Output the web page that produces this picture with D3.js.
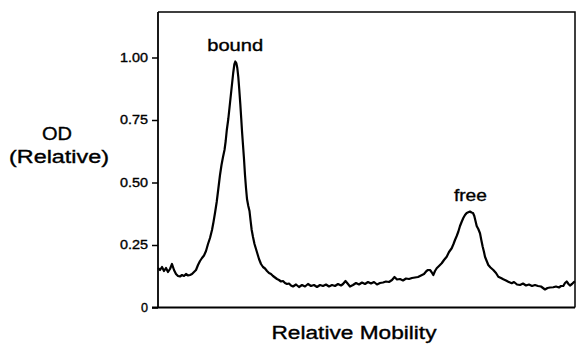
<!DOCTYPE html>
<html><head><meta charset="utf-8">
<script src="https://cdn.jsdelivr.net/npm/d3@7"></script>
<style>html,body{margin:0;padding:0;background:#fff;}svg{display:block;}</style>
</head><body>
<script>
// Relative mobility (arbitrary units, no tick labels on the x axis)
const mobility = [0,0.5,1,1.5,2,2.5,3,3.5,4,4.5,5,5.5,6,6.5,7,7.5,8,8.5,9,
9.5,10,10.5,11,11.5,12,12.5,13,13.5,13.875,14.25,14.675,15.075,15.5,15.875,16.25,16.625,16.925,17.2,17.575,18,18.425,18.8,19.1,19.325,
19.575,19.825,20.075,20.325,20.575,20.8,21,21.25,21.5,21.75,22,22.25,22.575,22.875,23.125,23.425,23.75,24.125,24.5,24.875,25.25,25.75,26.25,26.75,27.25,27.75,28.25,28.75,29.25,29.75,30.25,30.75,31.25,31.75,32.25,32.75,33.25,
33.75,34.5,35.25,36,36.75,37.5,38.25,39,39.75,40.5,41.25,42,42.75,43.5,44.25,45,45.75,46.25,46.875,47.5,48,48.75,49.5,50.25,51,51.75,52.5,53.25,54,54.75,55.5,56.25,57,57.75,58.5,59.125,59.75,60.5,61.25,62,62.75,63.5,64.25,65,65.75,66.5,67.125,67.5,
68,68.375,68.825,69.25,69.675,70.25,70.925,71.5,72.175,72.75,73.425,73.875,74.25,74.675,75.075,75.5,75.925,76.325,76.75,77.175,77.575,78,78.375,78.75,79.075,79.375,79.675,80.075,80.5,80.825,81.175,81.5,81.75,82.175,82.575,83.125,83.825,84.5,85.075,85.75,86.325,87,87.575,88.425,89,89.75,90.5,91.25,92,92.75,93.5,94.25,95,95.75,96.25,96.75,97.375,98,98.825,99.5,100.25,100.75,101.325,101.75,102.175,102.625,103,103.5,104,104.25];
// Optical density (relative)
const od = [0.158,0.150,0.162,0.146,0.158,0.142,0.154,0.174,0.150,0.134,0.126,0.124,0.130,0.126,0.134,0.128,0.130,0.134,0.142,
0.150,0.170,0.186,0.198,0.208,0.226,0.254,0.278,0.310,0.342,0.378,0.422,0.474,0.530,0.570,0.602,0.630,0.666,0.710,0.754,0.818,0.882,0.938,0.974,0.984,
0.978,0.958,0.922,0.870,0.814,0.758,0.706,0.650,0.594,0.530,0.478,0.434,0.406,0.386,0.350,0.310,0.282,0.254,0.234,0.214,0.194,0.174,0.162,0.156,0.146,0.138,0.134,0.126,0.120,0.114,0.110,0.104,0.106,0.098,0.094,0.096,0.088,
0.084,0.092,0.082,0.090,0.084,0.094,0.086,0.090,0.082,0.090,0.086,0.092,0.084,0.090,0.086,0.094,0.088,0.094,0.106,0.094,0.084,0.090,0.098,0.092,0.100,0.094,0.102,0.096,0.102,0.092,0.098,0.100,0.104,0.102,0.110,0.122,0.112,0.114,0.108,0.116,0.114,0.118,0.120,0.122,0.128,0.134,0.146,0.150,
0.150,0.142,0.130,0.146,0.157,0.166,0.177,0.190,0.203,0.222,0.237,0.254,0.270,0.286,0.303,0.326,0.343,0.358,0.370,0.378,0.381,0.384,0.380,0.378,0.366,0.346,0.326,0.314,0.297,0.270,0.243,0.222,0.203,0.186,0.170,0.160,0.150,0.138,0.123,0.118,0.113,0.108,0.103,0.097,0.102,0.092,0.090,0.096,0.088,0.092,0.086,0.090,0.086,0.084,0.078,0.072,0.078,0.080,0.081,0.084,0.080,0.086,0.086,0.098,0.104,0.094,0.088,0.094,0.102,0.104];

const yTicks = [0, 0.25, 0.5, 0.75, 1.0];
const yTickLabels = ["0", "0.25", "0.50", "0.75", "1.00"];
const peakLabels = ["bound", "free"];
const peakMobility = [19.3, 78.1];
const peakOD = [0.984, 0.384];
const yTitle = ["OD", "(Relative)"];
const xTitle = "Relative Mobility";

const W = 576, H = 345;
const svg = d3.select("body").append("svg").attr("width", W).attr("height", H);
const x = d3.scaleLinear().domain([0, 104.25]).range([158, 575]);
const y = d3.scaleLinear().domain([0, 1]).range([307.5, 57.5]);
const yTop = y.invert(12);
const font = "'Liberation Sans', Arial, Helvetica, sans-serif";
const ink = sel => sel.attr("fill", "#000").attr("stroke", "#000").attr("stroke-width", 0.35);

// frame (top and right)
svg.append("path")
  .attr("d", `M${x(0)},${y(yTop)}H${x(104.25)}V${y(0)}`)
  .attr("fill", "none").attr("stroke", "#000").attr("stroke-width", 1.5);

// bottom axis line
svg.append("line").attr("x1", x(0) - 6).attr("x2", x(104.25))
  .attr("y1", y(0)).attr("y2", y(0)).attr("stroke", "#000").attr("stroke-width", 1.8);

// y axis
const yAxis = d3.axisLeft(y).tickValues(yTicks)
  .tickFormat((d, i) => yTickLabels[i]).tickSize(6).tickPadding(4).tickSizeOuter(0);
const gy = svg.append("g").attr("transform", `translate(${x(0)},0)`).call(yAxis);
gy.select(".domain").remove();
gy.append("line").attr("x1", 0).attr("x2", 0).attr("y1", y(yTop)).attr("y2", y(0))
  .attr("stroke", "#000").attr("stroke-width", 1.8);
gy.selectAll(".tick line").attr("stroke", "#000").attr("stroke-width", 1.5);
gy.selectAll(".tick text").call(ink).style("font-family", font)
  .style("font-size", "12px").attr("textLength", (d, i) => yTickLabels[i].length === 1 ? 7 : 28)
  .attr("lengthAdjust", "spacingAndGlyphs");

// trace
const data = mobility.map((m, i) => [m, od[i]]);
svg.append("path").datum(data)
  .attr("d", d3.line().x(d => x(d[0])).y(d => y(d[1])))
  .attr("fill", "none").attr("stroke", "#000").attr("stroke-width", 2.2).attr("stroke-linejoin", "round");

// peak labels
const peakDy = [11, 11];
const peakLen = [56, 33];
peakLabels.forEach((t, i) => {
  svg.append("text").text(t).call(ink)
    .attr("x", x(peakMobility[i])).attr("y", y(peakOD[i]) - peakDy[i])
    .attr("text-anchor", "middle").style("font-family", font).style("font-size", "17px")
    .attr("textLength", peakLen[i]).attr("lengthAdjust", "spacingAndGlyphs");
});

// y title
svg.append("text").text(yTitle[0]).call(ink).attr("x", 57).attr("y", 140)
  .attr("text-anchor", "middle").style("font-family", font).style("font-size", "18px")
  .attr("textLength", 30).attr("lengthAdjust", "spacingAndGlyphs");
svg.append("text").text(yTitle[1]).call(ink).attr("x", 59).attr("y", 163)
  .attr("text-anchor", "middle").style("font-family", font).style("font-size", "17.5px")
  .attr("textLength", 100).attr("lengthAdjust", "spacingAndGlyphs");

// x title
svg.append("text").text(xTitle).call(ink).attr("x", 354).attr("y", 339)
  .attr("text-anchor", "middle").style("font-family", font).style("font-size", "18px")
  .attr("textLength", 165).attr("lengthAdjust", "spacingAndGlyphs");
</script>
</body></html>
